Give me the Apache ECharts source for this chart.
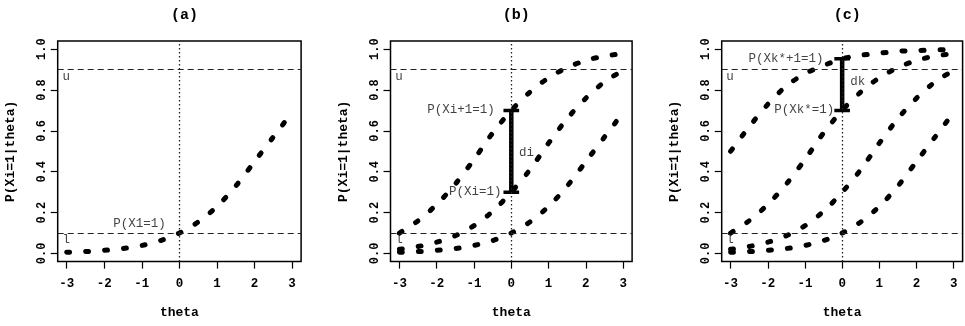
<!DOCTYPE html>
<html><head><meta charset="utf-8">
<script src="https://cdn.jsdelivr.net/npm/echarts@6/dist/echarts.min.js"></script>
<style>html,body{margin:0;padding:0;background:#fff}#c{width:965px;height:326px}</style>
</head><body><div id="c"></div>
<script>
// ---- data ----
const theta  = [-3, -2.5, -2, -1.5, -1, -0.5, 0, 0.5, 1, 1.5, 2, 2.5, 3];
const curveA = [0.50, 0.62, 0.73, 0.82, 0.88, 0.92, 0.953, 0.97, 0.98, 0.99, 0.993, 0.996, 0.998];
const curveB = [0.10, 0.16, 0.24, 0.34, 0.46, 0.59, 0.70, 0.79, 0.86, 0.91, 0.945, 0.966, 0.979];
const curveC = [0.02, 0.034, 0.055, 0.087, 0.136, 0.206, 0.30, 0.41, 0.54, 0.66, 0.76, 0.84, 0.896];
const curveD = [0.006, 0.009, 0.015, 0.024, 0.039, 0.063, 0.10, 0.154, 0.23, 0.33, 0.45, 0.57, 0.69];
const panelTitles = ['(a)', '(b)', '(c)'];
const panelCurves = [[curveD], [curveB, curveC, curveD], [curveA, curveB, curveC, curveD]];
const xTicks = [-3, -2, -1, 0, 1, 2, 3];
const xTickLabels = ['-3', '-2', '-1', '0', '1', '2', '3'];
const yTicks = [0, 0.2, 0.4, 0.6, 0.8, 1.0];
const yTickLabels = ['0.0', '0.2', '0.4', '0.6', '0.8', '1.0'];
const xName = 'theta';
const yName = 'P(Xi=1|theta)';
const lowerBound = 0.1, upperBound = 0.9;
const barLow  = [null, 0.30, 0.70];
const barHigh = [null, 0.70, 0.953];
const annotations = [
  [{x: -0.35, y: 0.145, text: 'P(X1=1)', align: 'right'},
   {x: -3, y: 0.865, text: 'u', align: 'center'},
   {x: -3, y: 0.065, text: 'l', align: 'center'}],
  [{x: -0.43, y: 0.70, text: 'P(Xi+1=1)', align: 'right'},
   {x: -0.25, y: 0.30, text: 'P(Xi=1)', align: 'right'},
   {x: 0.22, y: 0.49, text: 'di', align: 'left'},
   {x: -3, y: 0.865, text: 'u', align: 'center'},
   {x: -3, y: 0.065, text: 'l', align: 'center'}],
  [{x: -0.49, y: 0.95, text: 'P(Xk*+1=1)', align: 'right'},
   {x: -0.20, y: 0.70, text: 'P(Xk*=1)', align: 'right'},
   {x: 0.23, y: 0.84, text: 'dk', align: 'left'},
   {x: -3, y: 0.865, text: 'u', align: 'center'},
   {x: -3, y: 0.065, text: 'l', align: 'center'}]
];

// ---- layout / style ----
const FONT = '"Liberation Mono", "DejaVu Sans Mono", monospace';
const gridBoxes = [
  {left: 57.7, top: 41, width: 243.4, height: 220.6},
  {left: 390.5, top: 41, width: 241.6, height: 220.6},
  {left: 721.7, top: 41, width: 240.9, height: 220.6}
];

const chart = echarts.init(document.getElementById('c'), null, {renderer: 'canvas'});
const grid = [], xAxis = [], yAxis = [], series = [], title = [];

gridBoxes.forEach((g, i) => {
  grid.push(Object.assign({show: true, borderColor: '#000', borderWidth: 1.5, backgroundColor: 'transparent'}, g));
  title.push({
    text: panelTitles[i], left: g.left + g.width / 2, top: 3, textAlign: 'center',
    textStyle: {fontFamily: FONT, fontWeight: 'bold', fontSize: 15, color: '#000'}
  });
  xAxis.push({
    type: 'value', gridIndex: i, min: -3.24, max: 3.24, position: 'bottom',
    axisLine: {show: false, onZero: false}, splitLine: {show: false},
    axisTick: {show: true, inside: false, length: 7, customValues: xTicks, lineStyle: {color: '#000', width: 1.2}},
    axisLabel: {customValues: xTicks, margin: 16, fontFamily: FONT, fontWeight: 'bold', fontSize: 12.5, color: '#000',
      formatter: v => xTickLabels[xTicks.findIndex(t => Math.abs(t - v) < 1e-9)]},
    name: xName, nameLocation: 'middle', nameGap: 45,
    nameTextStyle: {fontFamily: FONT, fontWeight: 'bold', fontSize: 13, color: '#000'}
  });
  yAxis.push({
    type: 'value', gridIndex: i, min: -0.04, max: 1.04, position: 'left',
    axisLine: {show: false, onZero: false}, splitLine: {show: false},
    axisTick: {show: true, inside: false, length: 7, customValues: yTicks, lineStyle: {color: '#000', width: 1.2}},
    axisLabel: {customValues: yTicks, rotate: 90, margin: 10, fontFamily: FONT, fontWeight: 'bold', fontSize: 12, color: '#000',
      formatter: v => yTickLabels[yTicks.findIndex(t => Math.abs(t - v) < 1e-9)]},
    name: yName, nameLocation: 'middle', nameGap: 40, nameRotate: 90,
    nameTextStyle: {fontFamily: FONT, fontWeight: 'bold', fontSize: 13, color: '#000'}
  });

  // reference lines
  series.push({
    type: 'line', xAxisIndex: i, yAxisIndex: i, data: [], silent: true, animation: false,
    markLine: {
      silent: true, symbol: ['none', 'none'], animation: false, label: {show: false},
      data: [
        {yAxis: lowerBound, lineStyle: {color: '#222', width: 1.2, type: [6, 4]}},
        {yAxis: upperBound, lineStyle: {color: '#222', width: 1.2, type: [6, 4]}},
        {xAxis: 0, lineStyle: {color: '#222', width: 1.3, type: [1.5, 2.5]}}
      ]
    }
  });

  panelCurves[i].forEach(c => {
    series.push({
      type: 'line', xAxisIndex: i, yAxisIndex: i, smooth: 0.3, symbol: 'none', showSymbol: false,
      silent: true, animation: false, z: 3,
      data: theta.map((t, k) => [t, c[k]]),
      lineStyle: {color: '#000', width: 5, type: [3, 16], cap: 'round'}
    });
  });

  if (barLow[i] !== null) {
    series.push({
      type: 'line', xAxisIndex: i, yAxisIndex: i, symbol: 'none', silent: true, animation: false, z: 4,
      data: [[0, barLow[i]], [0, barHigh[i]]],
      lineStyle: {color: '#000', width: 4.5, type: 'solid', cap: 'butt'}
    });
    [barLow[i], barHigh[i]].forEach(v => {
      series.push({
        type: 'line', xAxisIndex: i, yAxisIndex: i, symbol: 'none', silent: true, animation: false, z: 4,
        data: [[-0.21, v], [0.21, v]],
        lineStyle: {color: '#000', width: 3.5, type: 'solid', cap: 'butt'}
      });
    });
  }

  series.push({
    type: 'scatter', xAxisIndex: i, yAxisIndex: i, symbolSize: 1, silent: true, animation: false, z: 5,
    itemStyle: {color: 'rgba(0,0,0,0)'},
    data: annotations[i].map(a => ({
      value: [a.x, a.y],
      label: {show: true, position: [0, 0], align: a.align, verticalAlign: 'middle', formatter: a.text,
        fontFamily: FONT, fontSize: 12.5, color: '#111'}
    }))
  });
});

chart.setOption({animation: false, backgroundColor: '#fff', title, grid, xAxis, yAxis, series});
</script>
</body></html>
